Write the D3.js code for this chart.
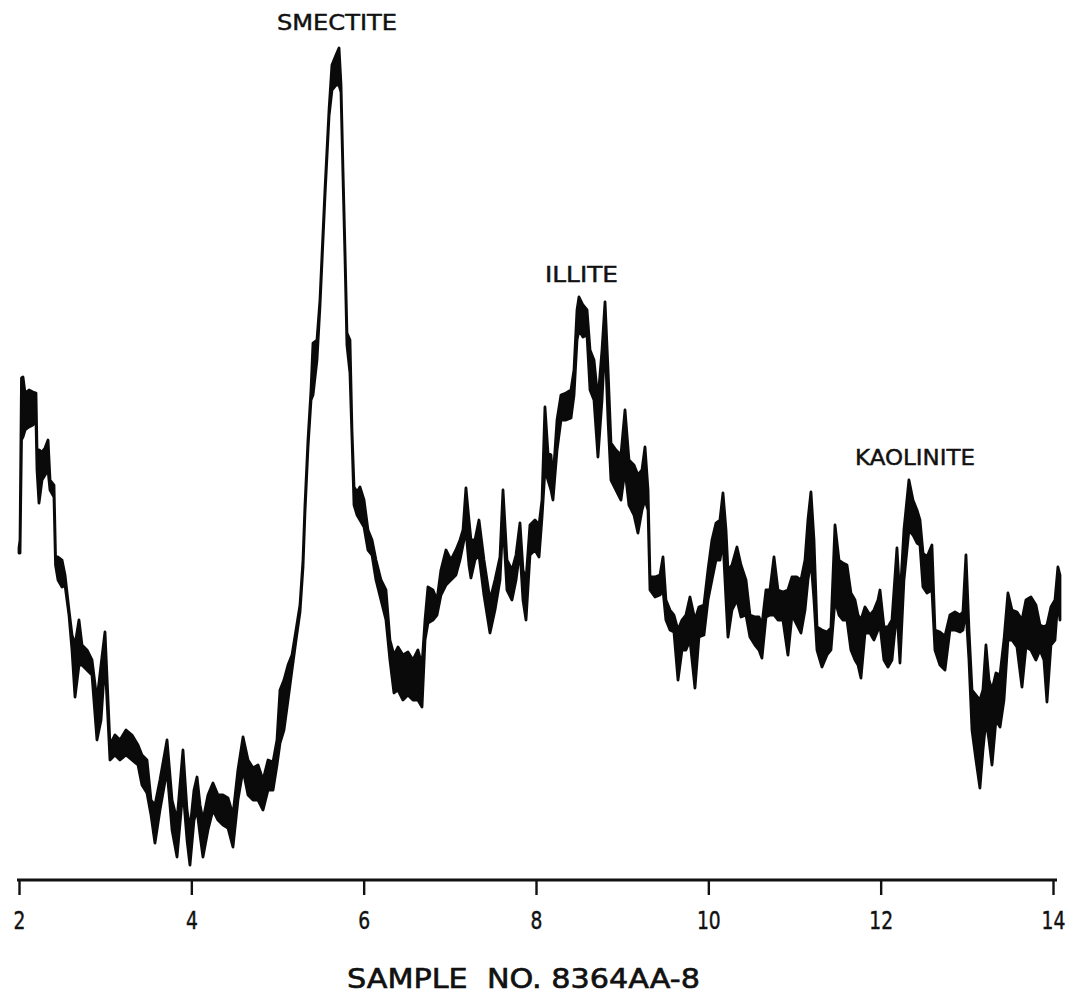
<!DOCTYPE html>
<html>
<head>
<meta charset="utf-8">
<script src="https://cdn.jsdelivr.net/npm/d3@7"></script>
<style>
  body { margin: 0; background: #fff; }
  svg { display: block; }
  .lbl { font-family: "DejaVu Sans", sans-serif; fill: #111; stroke: #111; stroke-width: 0.45px; }
</style>
</head>
<body>
<svg width="1068" height="994"></svg>
<script>
// diffractogram, degrees 2-theta vs counts (arbitrary units)
// upper / lower = envelope of the noisy recorder trace
var twoTheta = [
  2.000, 2.012, 2.029, 2.046, 2.070, 2.116, 2.162, 2.197, 2.209, 2.232,
  2.267, 2.302, 2.337, 2.360, 2.406, 2.424, 2.453, 2.499, 2.534, 2.580,
  2.615, 2.650, 2.696, 2.731, 2.789, 2.847, 2.905, 2.952, 2.998, 3.033,
  3.056, 3.114, 3.172, 3.242, 3.311, 3.381, 3.427, 3.485, 3.532, 3.578,
  3.636, 3.718, 3.776, 3.834, 3.903, 3.950, 3.984, 4.031, 4.066, 4.101,
  4.135, 4.193, 4.251, 4.309, 4.367, 4.425, 4.483, 4.541, 4.600, 4.658,
  4.716, 4.774, 4.832, 4.890, 4.948, 4.994, 5.029, 5.075, 5.122, 5.168,
  5.215, 5.261, 5.296, 5.319, 5.354, 5.389, 5.412, 5.458, 5.493, 5.551,
  5.598, 5.632, 5.679, 5.714, 5.737, 5.760, 5.783, 5.806, 5.841, 5.864,
  5.888, 5.923, 5.957, 6.004, 6.050, 6.097, 6.143, 6.201, 6.259, 6.305,
  6.352, 6.398, 6.456, 6.514, 6.572, 6.630, 6.677, 6.712, 6.746, 6.804,
  6.851, 6.897, 6.955, 7.013, 7.071, 7.118, 7.153, 7.187, 7.222, 7.245,
  7.292, 7.338, 7.396, 7.466, 7.524, 7.582, 7.617, 7.663, 7.721, 7.768,
  7.814, 7.849, 7.884, 7.930, 7.988, 8.035, 8.070, 8.104, 8.139, 8.174,
  8.197, 8.244, 8.290, 8.348, 8.406, 8.441, 8.476, 8.499, 8.545, 8.592,
  8.627, 8.673, 8.719, 8.766, 8.801, 8.836, 8.870, 8.928, 8.986, 9.033,
  9.079, 9.137, 9.183, 9.230, 9.265, 9.300, 9.323, 9.381, 9.439, 9.474,
  9.508, 9.555, 9.601, 9.648, 9.694, 9.740, 9.787, 9.845, 9.891, 9.949,
  9.996, 10.042, 10.089, 10.135, 10.170, 10.205, 10.228, 10.274, 10.332, 10.379,
  10.437, 10.483, 10.541, 10.588, 10.622, 10.669, 10.715, 10.762, 10.808, 10.866,
  10.924, 10.971, 11.029, 11.075, 11.122, 11.156, 11.191, 11.226, 11.261, 11.319,
  11.377, 11.423, 11.470, 11.516, 11.563, 11.609, 11.655, 11.702, 11.737, 11.771,
  11.818, 11.876, 11.922, 11.969, 11.992, 12.038, 12.085, 12.131, 12.189, 12.224,
  12.270, 12.328, 12.375, 12.421, 12.456, 12.491, 12.537, 12.595, 12.630, 12.688,
  12.746, 12.804, 12.862, 12.920, 12.955, 12.990, 13.025, 13.060, 13.106, 13.152,
  13.187, 13.222, 13.257, 13.292, 13.338, 13.385, 13.431, 13.477, 13.524, 13.582,
  13.640, 13.686, 13.744, 13.802, 13.849, 13.895, 13.930, 13.976, 14.023, 14.057,
  14.081
];

var upper = [
  332, 340, 502, 503, 487, 490, 488, 487, 430, 430,
  428, 432, 440, 400, 395, 323, 323, 320, 305, 270,
  245, 235, 260, 235, 230, 220, 180, 215, 248, 180,
  135, 145, 140, 150, 145, 135, 125, 120, 80, 75,
  100, 140, 80, 60, 130, 70, 50, 90, 103, 75,
  60, 85, 97, 85, 85, 82, 65, 110, 143, 120,
  112, 115, 100, 120, 118, 140, 190, 200, 215, 225,
  250, 275, 320, 375, 440, 490, 537, 540, 580, 690,
  770, 815, 825, 832, 795, 710, 630, 547, 540, 450,
  393, 388, 393, 380, 350, 340, 320, 300, 290, 240,
  225, 233, 225, 228, 220, 230, 215, 260, 293, 290,
  280, 310, 330, 320, 330, 340, 350, 392, 360, 340,
  340, 360, 320, 280, 300, 323, 390, 320, 310, 325,
  357, 310, 300, 355, 360, 355, 380, 473, 427, 425,
  400, 460, 485, 487, 490, 510, 570, 583, 575, 570,
  530, 520, 480, 530, 578, 510, 437, 430, 425, 470,
  420, 415, 405, 410, 433, 390, 303, 303, 305, 323,
  280, 270, 265, 250, 260, 265, 283, 260, 273, 275,
  310, 340, 357, 360, 387, 350, 310, 315, 333, 315,
  300, 265, 263, 263, 255, 290, 290, 323, 290, 288,
  290, 303, 303, 300, 320, 360, 388, 340, 253, 250,
  248, 252, 355, 320, 317, 315, 287, 280, 265, 260,
  273, 265, 270, 280, 290, 253, 253, 260, 332, 280,
  350, 400, 380, 370, 360, 327, 323, 335, 250, 248,
  244, 265, 268, 265, 268, 325, 250, 190, 185, 180,
  190, 235, 200, 190, 207, 205, 240, 287, 270, 268,
  260, 280, 283, 275, 255, 253, 255, 273, 280, 313,
  305
];

var lower = [
  327, 327, 440, 443, 450, 453, 455, 460, 410, 377,
  400, 405, 410, 390, 383, 315, 300, 293, 295, 265,
  230, 183, 215, 215, 210, 205, 140, 160, 220, 160,
  120, 125, 120, 125, 120, 115, 95, 87, 65, 37,
  70, 110, 50, 23, 90, 40, 15, 60, 70, 45,
  23, 50, 70, 60, 55, 52, 33, 80, 110, 85,
  80, 80, 70, 90, 90, 115, 137, 150, 180, 210,
  240, 268, 313, 368, 433, 480, 485, 520, 574, 684,
  764, 790, 795, 795, 788, 704, 624, 535, 507, 444,
  375, 365, 360, 353, 330, 325, 300, 280, 260, 220,
  187, 190, 180, 185, 180, 180, 173, 240, 257, 260,
  265, 285, 295, 300, 305, 320, 335, 350, 315, 302,
  320, 325, 285, 247, 270, 300, 360, 290, 280, 300,
  330, 280, 260, 325, 330, 323, 363, 410, 400, 390,
  380, 430, 460, 460, 462, 485, 540, 550, 543, 545,
  490, 480, 423, 480, 540, 460, 400, 390, 380, 410,
  375, 365, 347, 370, 380, 370, 290, 283, 285, 290,
  260, 250, 248, 200, 230, 230, 240, 192, 243, 245,
  280, 300, 320, 320, 340, 280, 243, 270, 280, 263,
  265, 243, 235, 230, 222, 263, 265, 265, 260, 260,
  225, 265, 255, 247, 270, 300, 320, 280, 230, 213,
  225, 230, 280, 265, 260, 260, 230, 220, 215, 202,
  247, 247, 240, 250, 255, 220, 213, 220, 270, 217,
  300, 350, 345, 337, 335, 293, 287, 290, 230, 215,
  210, 250, 250, 248, 250, 270, 220, 150, 120, 92,
  130, 160, 140, 115, 160, 153, 180, 240, 240, 233,
  193, 233, 230, 220, 230, 220, 178, 235, 240, 280,
  260
];

var tickValues = [2, 4, 6, 8, 10, 12, 14];
var peakNames = ["SMECTITE", "ILLITE", "KAOLINITE"];
var sampleTitle = "SAMPLE  NO. 8364AA-8";

var svg = d3.select("svg");

var x = d3.scaleLinear().domain([2, 14]).range([19, 1053]);
var y = d3.scaleLinear().domain([0, 840]).range([880, 40]);

var pts = twoTheta.map(function (t, i) {
    return { t: t, hi: upper[i], lo: lower[i] };
});

var band = d3.area()
    .x(function (d) { return x(d.t); })
    .y0(function (d) { return y(d.lo); })
    .y1(function (d) { return y(d.hi); });

svg.append("path")
    .datum(pts)
    .attr("d", band)
    .attr("fill", "#0a0a0a")
    .attr("stroke", "#0a0a0a")
    .attr("stroke-width", 2.8)
    .attr("stroke-linejoin", "round");

// axis
var axis = d3.axisBottom(x)
    .tickValues(tickValues)
    .tickSize(15)
    .tickSizeOuter(0)
    .tickPadding(17);

var g = svg.append("g")
    .attr("transform", "translate(0,880)")
    .call(axis);

g.attr("font-size", null).attr("font-family", null);

g.select(".domain")
    .attr("stroke", "#111")
    .attr("stroke-width", 3.2)
    .attr("d", "M" + (x(2) - 2) + ",0H" + (x(14) + 4));

g.selectAll(".tick line")
    .attr("stroke", "#111")
    .attr("stroke-width", 2.4);

g.selectAll(".tick text")
    .attr("class", "lbl")
    .attr("font-size", 24)
    .style("font-size", "24px")
    .attr("transform", "scale(0.78,1)")
    .attr("fill", "#111");

// peak labels
var labelBox = [
    { x0: 277, w: 120, base: 30 },
    { x0: 545, w: 73, base: 282 },
    { x0: 855, w: 120, base: 465 }
];

peakNames.forEach(function (name, i) {
    svg.append("text")
        .attr("class", "lbl")
        .attr("x", labelBox[i].x0)
        .attr("y", labelBox[i].base)
        .style("font-size", "21px")
        .attr("textLength", labelBox[i].w)
        .attr("lengthAdjust", "spacingAndGlyphs")
        .text(name);
});

svg.append("text")
    .attr("class", "lbl")
    .attr("x", 347)
    .attr("y", 988)
    .style("font-size", "26px")
    .style("stroke-width", "0.6px")
    .attr("textLength", 353)
    .attr("lengthAdjust", "spacingAndGlyphs")
    .style("white-space", "pre")
    .text(sampleTitle);
</script>
</body>
</html>
